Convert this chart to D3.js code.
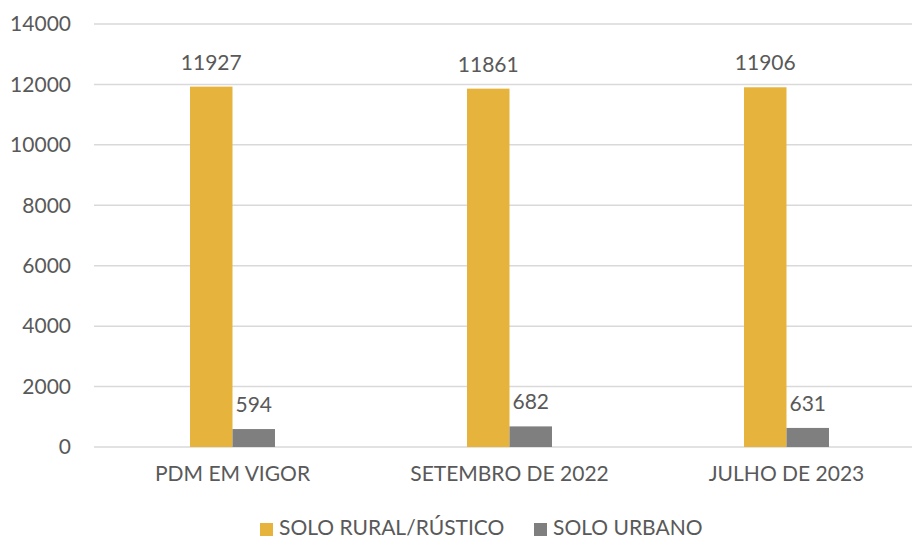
<!DOCTYPE html>
<html>
<head>
<meta charset="utf-8">
<script src="https://cdn.jsdelivr.net/npm/d3@7"></script>
<style>
  html, body { margin: 0; padding: 0; background: #fff; }
  svg { display: block; }
  text { font-family: Lato, "Open Sans", sans-serif; fill: #595959; }
</style>
</head>
<body>
<svg id="chart" width="912" height="540"></svg>
<script>
// Land classification areas by planning stage
const categories = ["PDM EM VIGOR", "SETEMBRO DE 2022", "JULHO DE 2023"];
const seriesNames = ["SOLO RURAL/RÚSTICO", "SOLO URBANO"];
const rural = [11927, 11861, 11906];
const urbano = [594, 682, 631];
const yTicks = [0, 2000, 4000, 6000, 8000, 10000, 12000, 14000];

const colors = ["#E6B43C", "#7F7F7F"];
const series = [rural, urbano];

const svg = d3.select("#chart");
const W = 912, H = 540;
const margin = { left: 94, right: -13, top: 24, bottom: 93 };
const fontSize = 21;

const x = d3.scaleBand()
  .domain(categories)
  .range([margin.left, W - margin.right])
  .paddingInner(0)
  .paddingOuter(0);

const xInner = d3.scaleBand()
  .domain(seriesNames)
  .range([0, x.bandwidth()])
  .paddingInner(0)
  .paddingOuter(2.26);

const y = d3.scaleLinear()
  .domain([0, 14000])
  .range([H - margin.bottom, margin.top]);

// gridlines
svg.append("g")
  .selectAll("line")
  .data(yTicks)
  .join("line")
  .attr("x1", margin.left)
  .attr("x2", W - margin.right)
  .attr("y1", d => y(d))
  .attr("y2", d => y(d))
  .attr("stroke", "#D9D9D9")
  .attr("stroke-width", 1.5);

// y axis labels
const yAxis = d3.axisLeft(y).tickValues(yTicks).tickSize(0).tickPadding(0).tickFormat(d3.format("d"));
const gy = svg.append("g").attr("transform", "translate(71,0)").call(yAxis);
gy.select(".domain").remove();
gy.selectAll("text")
  .style("font-family", "Lato, 'Open Sans', sans-serif")
  .style("font-size", fontSize + "px")
  .attr("fill", "#595959");

// x axis labels
const xAxis = d3.axisBottom(x).tickSize(0).tickPadding(0);
const gx = svg.append("g").attr("transform", `translate(0,${H - margin.bottom + 19})`).call(xAxis);
gx.select(".domain").remove();
gx.selectAll("text")
  .style("font-family", "Lato, 'Open Sans', sans-serif")
  .style("font-size", fontSize + "px")
  .attr("fill", "#595959");

// bars
const groups = svg.append("g")
  .selectAll("g")
  .data(categories)
  .join("g")
  .attr("transform", d => `translate(${x(d)},0)`);

groups.selectAll("rect")
  .data((c, i) => series.map((s, k) => ({ key: seriesNames[k], value: s[i], k })))
  .join("rect")
  .attr("x", d => xInner(d.key))
  .attr("width", xInner.bandwidth())
  .attr("y", d => y(d.value))
  .attr("height", d => y(0) - y(d.value))
  .attr("fill", d => colors[d.k]);

// value labels
groups.selectAll("text.val")
  .data((c, i) => series.map((s, k) => ({ key: seriesNames[k], value: s[i], k })))
  .join("text")
  .attr("class", "val")
  .attr("x", d => xInner(d.key) + xInner.bandwidth() / 2)
  .attr("y", d => y(d.value) - 17)
  .attr("text-anchor", "middle")
  .style("font-size", fontSize + "px")
  .text(d => d.value);

// legend
const legend = svg.append("g");
const legendItems = [
  { name: seriesNames[0], color: colors[0], x: 260 },
  { name: seriesNames[1], color: colors[1], x: 534 }
];
legendItems.forEach(it => {
  legend.append("rect")
    .attr("x", it.x).attr("y", 523)
    .attr("width", 13).attr("height", 13)
    .attr("fill", it.color);
  legend.append("text")
    .attr("x", it.x + 19).attr("y", 535)
    .style("font-size", fontSize + "px")
    .text(it.name);
});
</script>
</body>
</html>
